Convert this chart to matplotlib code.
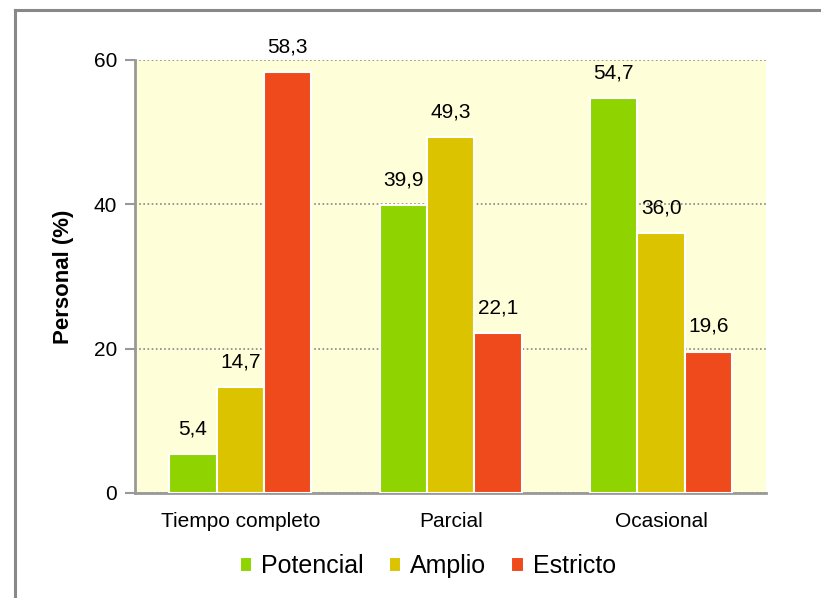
import numpy as np
import matplotlib.pyplot as plt
from matplotlib.lines import Line2D

plt.rcParams['font.family'] = ['Liberation Sans Narrow', 'Liberation Sans', 'DejaVu Sans']

categorias = ['Tiempo completo', 'Parcial', 'Ocasional']
series = ['Potencial', 'Amplio', 'Estricto']
potencial = [5.4, 39.9, 54.7]
amplio = [14.7, 49.3, 36.0]
estricto = [58.3, 22.1, 19.6]
colores = ['#8fd400', '#dcc300', '#ef4a1b']

fig = plt.figure(figsize=(8.21, 5.98), dpi=100)
ax = fig.add_axes([0.1644, 0.1756, 0.769, 0.7241])
ax.set_facecolor('#fefed8')

# frame lines (left and top only)
fig.add_artist(Line2D([0.0177, 0.0177], [0.0, 0.983], color='#888888', lw=2.2,
                      transform=fig.transFigure))
fig.add_artist(Line2D([0.0177, 1.0], [0.983, 0.983], color='#888888', lw=2.2,
                      transform=fig.transFigure))

x = np.arange(len(categorias))
ancho = 0.225
for i, (vals, col) in enumerate(zip([potencial, amplio, estricto], colores)):
    pos = x + (i - 1) * ancho
    bars = ax.bar(pos, vals, ancho, color=col, edgecolor='white', linewidth=1.5,
                  label=series[i], zorder=3)
    for b, v in zip(bars, vals):
        ax.text(b.get_x() + b.get_width() / 2, v + 2.2,
                f'{v:.1f}'.replace('.', ','), ha='center', va='bottom',
                fontsize=15)

ax.set_xlim(-0.5, 2.5)
ax.set_ylim(0, 60)
ax.set_yticks([0, 20, 40, 60])
ax.yaxis.grid(True, linestyle=(0, (1, 1.5)), color='#888888', lw=1.2, zorder=1)
ax.set_axisbelow(True)
for s in ['top', 'right']:
    ax.spines[s].set_visible(False)
for s in ['left', 'bottom']:
    ax.spines[s].set_color('#999999')
    ax.spines[s].set_linewidth(2)
ax.tick_params(axis='y', length=7, width=1.5, color='#999999', labelsize=15, pad=6)
ax.tick_params(axis='x', length=0, labelsize=15, pad=14)
ax.set_xticks(x)
ax.set_xticklabels(categorias)
ax.set_ylabel('Personal (%)', fontsize=16, fontweight='bold', labelpad=14)

ax.legend(loc='upper center', bbox_to_anchor=(0.464, -0.09), ncol=3, frameon=False,
          fontsize=18, handlelength=0.5, handleheight=0.5, handletextpad=0.36,
          columnspacing=1.0)

fig.savefig('out.png', dpi=100)
